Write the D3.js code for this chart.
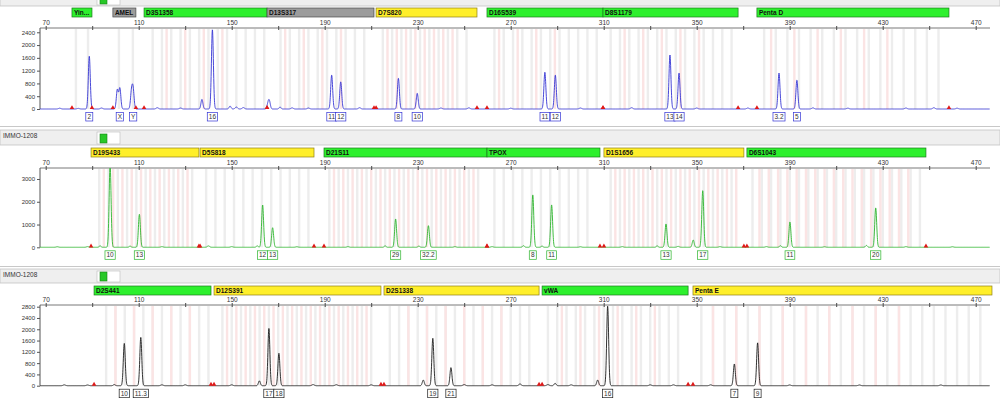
<!DOCTYPE html>
<html>
<head>
<meta charset="utf-8">
<script src="https://cdn.jsdelivr.net/npm/d3@7"></script>
<style>
  body { margin: 0; background: #fff; font-family: "Liberation Sans", Arial, sans-serif; }
</style>
</head>
<body>
<svg id="chart" width="1000" height="398"></svg>
<script>
// ---- data ----
const sampleName = "IMMO-1208";
const xTicks = d3.range(70, 471, 20);
const xLabels = [70, 110, 150, 190, 230, 270, 310, 350, 390, 430, 470];

const yTicksTop = [0, 400, 800, 1200, 1600, 2000, 2400];
const yTicksMid = [0, 1000, 2000, 3000];
const yTicksBot = [0, 400, 800, 1200, 1600, 2000, 2400, 2800];

// locus name, start bp, end bp, status
const lociTop = [
  ["Yin...", 81.3, 89.9, "ok"],
  ["AMEL", 98.9, 108.8, "none"],
  ["D3S1358", 112.3, 165.2, "ok"],
  ["D13S317", 165.2, 211.2, "none"],
  ["D7S820", 212.1, 255.5, "warn"],
  ["D16S539", 259.8, 309.7, "ok"],
  ["D8S1179", 309.7, 367.8, "ok"],
  ["Penta D", 375.9, 458.5, "ok"]
];
const lociMid = [
  ["D19S433", 89.5, 135.9, "warn"],
  ["D5S818", 136.4, 185.4, "warn"],
  ["D21S11", 189.7, 259.8, "ok"],
  ["TPOX", 259.8, 308.4, "ok"],
  ["D1S1656", 310.1, 370.3, "warn"],
  ["D6S1043", 371.6, 448.6, "ok"]
];
const lociBot = [
  ["D2S441", 90.8, 141.1, "ok"],
  ["D12S391", 142.4, 214.2, "warn"],
  ["D2S1338", 215.5, 282.2, "warn"],
  ["vWA", 283.5, 346.3, "ok"],
  ["Penta E", 348.4, 477, "warn"]
];

// peaks: size bp, height RFU, allele call ("" = no call)
const peaksTop = [
  [88.75, 1650, "2"], [100.8, 600, ""], [101.9, 650, "X"], [106.9, 520, ""], [107.6, 590, "Y"],
  [137.2, 300, ""], [141.7, 2480, "16"], [149.3, 90, ""], [165.6, 150, ""], [166.2, 230, ""],
  [170.8, 60, ""], [193.0, 1060, "11"], [196.9, 850, "12"], [221.7, 960, "8"], [229.8, 490, "10"],
  [284.7, 1150, "11"], [289.2, 1060, "12"], [338.5, 1690, "13"], [342.4, 1125, "14"],
  [385.4, 1125, "3.2"], [393.1, 900, "5"]
];
const peaksMid = [
  [93.4, 60, ""], [97.7, 3600, "10"], [106.3, 50, ""], [110.3, 1450, "13"], [161.0, 60, ""],
  [163.3, 1860, "12"], [167.6, 860, "13"], [216.0, 60, ""], [220.5, 1245, "29"], [230.5, 50, ""],
  [234.6, 950, "32.2"], [275.5, 70, ""], [279.5, 2300, "8"], [283.5, 50, ""], [287.6, 1860, "11"],
  [333.0, 60, ""], [336.8, 1025, "13"], [348.5, 320, ""], [352.6, 2490, "17"], [386.0, 70, ""],
  [390.1, 1110, "11"], [423.0, 80, ""], [427.0, 1730, "20"]
];
const peaksBot = [
  [99.5, 40, ""], [103.8, 1500, "10"], [110.9, 1710, "11.3"], [161.9, 170, ""], [166.0, 2030, "17"],
  [170.3, 1150, "18"], [232.4, 200, ""], [236.5, 1680, "19"], [244.3, 640, "21"], [289.1, 85, ""],
  [307.4, 200, ""], [311.7, 2820, "16"], [366.2, 770, "7"], [376.2, 1520, "9"]
];

// low baseline bumps
const noiseTop = [[76, 25], [84, 20], [94, 30], [118, 40], [128, 30], [152, 60], [155, 45], [176, 35],
  [183, 30], [205, 40], [240, 30], [252, 35], [270, 25], [300, 30], [322, 40], [350, 30], [372, 30],
  [400, 35], [415, 25], [440, 30], [452, 40], [462, 25]];
const noiseMid = [[75, 25], [88, 30], [120, 30], [140, 60], [150, 30], [178, 25], [200, 30], [246, 30],
  [262, 30], [300, 25], [318, 30], [342, 40], [360, 30], [380, 30], [405, 25], [440, 30], [460, 25]];
const noiseBot = [[78, 30], [88, 25], [120, 30], [130, 30], [150, 30], [185, 40], [195, 35], [210, 30],
  [250, 40], [262, 30], [274, 60], [286, 40], [296, 30], [330, 30], [340, 30], [356, 30], [390, 25], [420, 25], [455, 25]];

// allele bins: from bp, to bp, step bp, kind
const binsTop = [
  [83, 88.2, 5.2, "ladder"], [101.5, 107.5, 6, "ladder"],
  [116, 164, 4, "ladder"], [122, 146, 8, "virtual"],
  [171, 207, 4, "ladder"], [173, 197, 8, "virtual"],
  [215, 251, 4, "ladder"], [217, 245, 4, "virtual"],
  [263, 307, 4, "ladder"], [265, 289, 8, "virtual"],
  [313, 365, 4, "ladder"], [319, 351, 8, "virtual"],
  [379, 454, 5, "ladder"], [382, 432, 10, "virtual"]
];
const binsMid = [
  [93, 133, 4, "ladder"], [95, 131, 4, "virtual"],
  [139, 183, 4, "ladder"],
  [192, 258, 4, "ladder"], [194, 256, 4, "virtual"],
  [263, 306, 4, "ladder"],
  [313, 368, 4, "ladder"], [315, 367, 4, "virtual"],
  [374, 446, 4, "ladder"], [377, 441, 4, "virtual"]
];
const binsBot = [
  [96, 140, 4, "ladder"], [100, 132, 8, "virtual"],
  [146, 212, 4, "ladder"], [148, 210, 4, "virtual"],
  [218, 280, 4, "ladder"], [226, 266, 8, "virtual"],
  [286, 344, 4, "ladder"], [292, 332, 8, "virtual"],
  [352, 472, 5, "ladder"], [357, 437, 10, "virtual"]
];

// ---- layout ----
const svg = d3.select("#chart");
const font = "'Liberation Sans', Arial, sans-serif";
const plotLeft = 40, plotRight = 990;
const x = d3.scaleLinear().domain([70, 470]).range([45.7, 975.7]);
const locusFill = { ok: "#2df02d", warn: "#ffef2a", none: "#9c9c9c" };
const locusStroke = { ok: "#1e7a1e", warn: "#8f7f18", none: "#4a4a4a" };
const binFill = { ladder: "#ededed", virtual: "#fbe4e4" };

const panels = [
  { strip: [-10, 6], barY: 8, axisY: 28, baseY: 109, yMax: 2534, yTicks: yTicksTop,
    color: "#3434d4", loci: lociTop, peaks: peaksTop, noise: noiseTop, bins: binsTop },
  { strip: [130, 145], barY: 148, axisY: 168, baseY: 247.3, yMax: 3483, yTicks: yTicksMid,
    color: "#2cb42c", loci: lociMid, peaks: peaksMid, noise: noiseMid, bins: binsMid },
  { strip: [269, 283], barY: 286, axisY: 305, baseY: 385.7, yMax: 2860, yTicks: yTicksBot,
    color: "#1c1c1c", loci: lociBot, peaks: peaksBot, noise: noiseBot, bins: binsBot }
];

// panel separators
[126.5, 266.5].forEach(yy => {
  svg.append("line").attr("x1", 0).attr("x2", 1000).attr("y1", yy).attr("y2", yy)
    .attr("stroke", "#c8c8c8");
});

panels.forEach((p, pi) => {
  const g = svg.append("g");
  const y = d3.scaleLinear().domain([0, p.yMax]).range([p.baseY, p.axisY]);

  // header strip with sample name and dye icon
  g.append("rect").attr("x", 0).attr("y", p.strip[0]).attr("width", 1000)
    .attr("height", p.strip[1] - p.strip[0]).attr("fill", "#efefef").attr("stroke", "#c4c4c4")
    .attr("stroke-width", 0.8);
  if (pi > 0) {
    g.append("text").attr("x", 3).attr("y", p.strip[0] + 8).attr("font-size", 6.5)
      .attr("font-family", font).attr("fill", "#333").text(sampleName);
  }
  g.append("rect").attr("x", 97).attr("y", p.strip[0] + 2).attr("width", 23)
    .attr("height", p.strip[1] - p.strip[0] - 3).attr("fill", "#fff").attr("stroke", "#bbb")
    .attr("stroke-width", 0.6);
  g.append("rect").attr("x", 100).attr("y", p.strip[1] - 11).attr("width", 7).attr("height", 9)
    .attr("fill", "#28c828").attr("stroke", "#178017").attr("stroke-width", 0.6);

  // locus bars
  p.loci.forEach(l => {
    const x0 = x(l[1]), x1 = Math.min(x(l[2]), 992);
    g.append("rect").attr("x", x0).attr("y", p.barY).attr("width", x1 - x0).attr("height", 9)
      .attr("fill", locusFill[l[3]]).attr("stroke", locusStroke[l[3]]).attr("stroke-width", 0.7);
    g.append("text").attr("x", x0 + 2).attr("y", p.barY + 7).attr("font-size", 6.5)
      .attr("font-weight", "bold").attr("font-family", font).attr("fill", "#111").text(l[0]);
  });

  // allele bins
  const binG = g.append("g");
  p.bins.forEach(b => {
    d3.range(b[0], b[1] + 0.01, b[2]).forEach(v => {
      binG.append("rect").attr("x", x(v) - 1.2).attr("y", p.axisY + 1).attr("width", 2.4)
        .attr("height", p.baseY - p.axisY - 1).attr("fill", binFill[b[3]]);
    });
  });

  // x axis on top of the plot
  const xAxis = d3.axisTop(x).tickValues(xTicks).tickSize(2).tickPadding(1)
    .tickFormat(d => xLabels.includes(d) ? d : "");
  const ax = g.append("g").attr("transform", `translate(0,${p.axisY})`).call(xAxis);
  ax.select(".domain").remove();
  ax.selectAll(".tick line").attr("y1", 2).attr("y2", -2).attr("stroke", "#444");
  ax.selectAll("text").attr("font-size", 6.5).attr("font-family", font).attr("fill", "#333");
  g.append("line").attr("x1", plotLeft).attr("x2", plotRight).attr("y1", p.axisY).attr("y2", p.axisY)
    .attr("stroke", "#555").attr("stroke-width", 0.8);

  // y axis
  const yAxis = d3.axisLeft(y).tickValues(p.yTicks).tickSize(3).tickPadding(2).tickFormat(d3.format("d"));
  const ay = g.append("g").attr("transform", `translate(${plotLeft},0)`).call(yAxis);
  ay.select(".domain").attr("d", `M0,${p.axisY}V${p.baseY}`).attr("stroke", "#555");
  ay.selectAll(".tick line").attr("stroke", "#555");
  ay.selectAll("text").attr("font-size", 6).attr("font-family", font).attr("fill", "#333");

  // trace built from the peak list
  const clipId = "clip" + pi;
  svg.append("clipPath").attr("id", clipId).append("rect").attr("x", plotLeft)
    .attr("y", p.axisY).attr("width", plotRight - plotLeft).attr("height", p.baseY - p.axisY + 2);
  const all = p.peaks.map(d => [d[0], d[1], 0.42]).concat(p.noise.map(d => [d[0], d[1], 0.5]));
  const pts = d3.range(67.4, 476, 0.06).map(b => {
    let v = 0;
    all.forEach(k => {
      const dd = b - k[0];
      if (Math.abs(dd) < 4) v += k[1] * Math.exp(-dd * dd / (2 * k[2] * k[2]));
    });
    return [b, v];
  });
  const line = d3.line().x(d => x(d[0])).y(d => y(d[1]));
  g.append("path").datum(pts).attr("d", line).attr("fill", "none").attr("stroke", p.color)
    .attr("stroke-width", 0.9).attr("clip-path", `url(#${clipId})`);

  // locus boundary markers on the baseline
  const edges = [];
  p.loci.forEach(l => { edges.push(l[1], l[2]); });
  g.selectAll(".edge").data(edges.filter(e => x(e) < plotRight)).enter().append("path")
    .attr("transform", d => `translate(${x(d)},${p.baseY - 1.2})`)
    .attr("d", d3.symbol().type(d3.symbolTriangle).size(9)).attr("fill", "#e01818");

  // allele call boxes
  p.peaks.filter(d => d[2] !== "").forEach(d => {
    const lg = g.append("g");
    const t = lg.append("text").attr("x", x(d[0])).attr("y", p.baseY + 10).attr("text-anchor", "middle")
      .attr("font-size", 6.5).attr("font-family", font).attr("fill", "#333").text(d[2]);
    const w = Math.max(7, t.node().getComputedTextLength() + 3);
    lg.insert("rect", "text").attr("x", x(d[0]) - w / 2).attr("y", p.baseY + 3.5).attr("width", w)
      .attr("height", 8.5).attr("fill", "#fff").attr("stroke", p.color).attr("stroke-width", 0.7);
  });
});
</script>
</body>
</html>
